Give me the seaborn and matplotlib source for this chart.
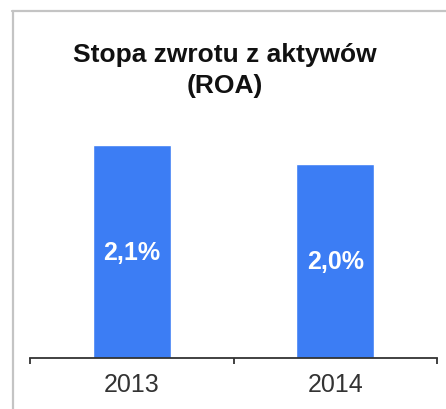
import matplotlib
matplotlib.use("Agg")
import matplotlib.pyplot as plt
import seaborn as sns
from matplotlib.lines import Line2D

years = ["2013", "2014"]
values = [2.1, 2.0]
labels = ["2,1%", "2,0%"]
title = "Stopa zwrotu z aktywów\n(ROA)"

sns.set_theme(style="white")
plt.rcParams['font.family'] = ['Liberation Sans', 'DejaVu Sans']

fig = plt.figure(figsize=(4.46, 4.10), dpi=100)
fig.patch.set_facecolor("white")
ax = fig.add_axes([30/446, 51/410, 407/446, 259/410])

sns.barplot(x=years, y=values, color="#3c7df4", saturation=1, width=0.385, ax=ax)

ymin, ymax = 0.99, 2.34
ax.set_ylim(ymin, ymax)
ax.set_xlim(-0.5, 1.5)

for i, (v, lab) in enumerate(zip(values, labels)):
    ax.text(i, (ymin + v) / 2, lab, ha="center", va="center", color="white",
            fontsize=18, fontweight="bold")

for s in ["top", "right", "left"]:
    ax.spines[s].set_visible(False)
ax.spines["bottom"].set_color("#333333")
ax.spines["bottom"].set_linewidth(1.3)
ax.set_yticks([])
ax.set_ylabel("")
ax.set_xlabel("")
ax.tick_params(axis="x", which="major", bottom=True, length=0, pad=10, labelsize=18,
               labelcolor="#333333")
ax.set_xticks([-0.5, 0.5, 1.5], minor=True)
ax.tick_params(axis="x", which="minor", bottom=True, length=4, width=1.3,
               color="#333333", direction="out")

fig.text(0.503, 1 - 70.5/410, title, ha="center", va="center", fontsize=19,
         fontweight="bold", color="#111111", linespacing=1.4)

# gray frame (top and left)
fig.add_artist(Line2D([12/446, 1.0], [1 - 11.5/410, 1 - 11.5/410], color="#c4c4c4", lw=1.6,
                      transform=fig.transFigure))
fig.add_artist(Line2D([12.5/446, 12.5/446], [0, 1 - 11.5/410], color="#c4c4c4", lw=1.6,
                      transform=fig.transFigure))

fig.savefig("out.png", dpi=100, facecolor="white")
